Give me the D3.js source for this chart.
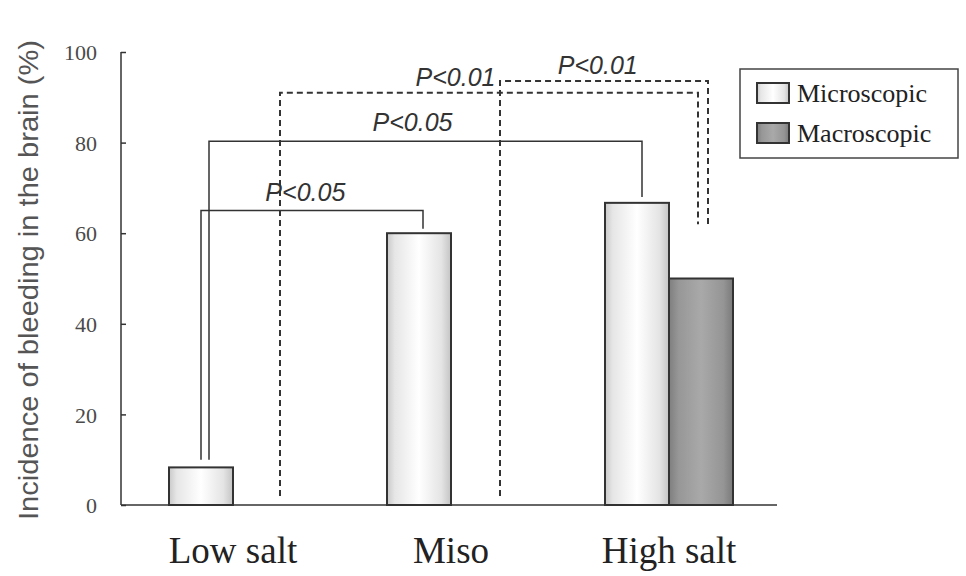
<!DOCTYPE html>
<html>
<head>
<meta charset="utf-8">
<script src="https://cdn.jsdelivr.net/npm/d3@7"></script>
<style>
  body { margin: 0; background: #fff; }
  svg { display: block; }
  .ylab { font-family: "Liberation Serif", serif; font-size: 22px; fill: #4a4a4a; }
  .xlab { font-family: "Liberation Serif", serif; font-size: 37px; fill: #222; }
  .ptext { font-family: "Liberation Sans", Arial, sans-serif; font-style: italic; font-size: 25px; fill: #333; }
  .legend-text { font-family: "Liberation Serif", serif; font-size: 26px; fill: #222; }
  .title { font-family: "Liberation Sans", Arial, sans-serif; font-size: 28px; fill: #555; }
</style>
</head>
<body>
<div id="chart"></div>
<script>
// data
var categories = ['Low salt', 'Miso', 'High salt'];
var series = ['Microscopic', 'Macroscopic'];
var microscopic = [8.3, 60, 66.7];
var macroscopic = [null, null, 50];
var yTicks = [0, 20, 40, 60, 80, 100];

// significance brackets: left end, right end, bar level (%), leg bottoms (%)
var bracketLabels = ['P<0.05', 'P<0.05', 'P<0.01', 'P<0.01'];
var bracketFrom = [['Low salt', 'Microscopic'], ['Low salt', 'Microscopic'], ['Low salt', 'Macroscopic'], ['Miso', 'Macroscopic']];
var bracketTo = [['Miso', 'Microscopic'], ['High salt', 'Microscopic'], ['High salt', 'Macroscopic'], ['High salt', 'Macroscopic']];
var bracketLevel = [65, 80.3, 91, 93.6];
var bracketLeftBottom = [10, 10, 2, 2];
var bracketRightBottom = [61, 68, 62, 62];
var bracketDashed = [false, false, true, true];

var width = 966,
    height = 576,
    axis_left = 121,
    axis_right = 777,
    bar_width = 64;

var svg = d3.select('#chart').append('svg')
            .attr('width', width)
            .attr('height', height);

var y = d3.scaleLinear().domain([0, 100]).range([505, 52]);
var x = d3.scaleBand().domain(categories).range([124, 778]).padding(0);
var xs = d3.scaleBand().domain(series).range([-bar_width, bar_width]);

var values = {};
values['Microscopic'] = microscopic;
values['Macroscopic'] = macroscopic;

function center(cat) { return x(cat) + x.bandwidth() / 2; }
function barMid(cat, s) { return center(cat) + xs(s) + xs.bandwidth() / 2; }

// gradients
var defs = svg.append('defs');
var g1 = defs.append('linearGradient').attr('id', 'grad-micro');
[[0, '#c9c9c9'], [0.12, '#e6e6e6'], [0.5, '#ffffff'], [0.85, '#e4e4e4'], [1, '#c4c4c4']].forEach(function(s){
  g1.append('stop').attr('offset', s[0]).attr('stop-color', s[1]);
});
var g2 = defs.append('linearGradient').attr('id', 'grad-macro');
[[0, '#7e7e7e'], [0.15, '#979797'], [0.5, '#a9a9a9'], [0.85, '#959595'], [1, '#7a7a7a']].forEach(function(s){
  g2.append('stop').attr('offset', s[0]).attr('stop-color', s[1]);
});
var fills = { 'Microscopic': 'url(#grad-micro)', 'Macroscopic': 'url(#grad-macro)' };

// y axis
var yAxis = d3.axisLeft(y).tickValues(yTicks).tickSize(-5).tickPadding(24);
var yg = svg.append('g')
            .attr('transform', 'translate(' + axis_left + ',0)')
            .call(yAxis);
yg.select('.domain').remove();
yg.selectAll('.tick line').attr('stroke', '#333').attr('stroke-width', 1.5);
yg.selectAll('.tick text').attr('class', 'ylab').attr('dy', '0.35em');

svg.append('line')
   .attr('x1', axis_left).attr('y1', y(100))
   .attr('x2', axis_left).attr('y2', y(0))
   .attr('stroke', '#333').attr('stroke-width', 1.5);

// bars
series.forEach(function(s){
  categories.forEach(function(c, i){
    var v = values[s][i];
    if (v === null) return;
    svg.append('rect')
       .attr('x', center(c) + xs(s))
       .attr('y', y(v))
       .attr('width', xs.bandwidth())
       .attr('height', y(0) - y(v))
       .attr('fill', fills[s])
       .attr('stroke', '#333')
       .attr('stroke-width', 2);
  });
});

// x axis line
svg.append('line')
   .attr('x1', axis_left).attr('y1', y(0))
   .attr('x2', axis_right).attr('y2', y(0))
   .attr('stroke', '#333').attr('stroke-width', 1.5);

svg.selectAll('.xlab')
   .data(categories)
   .enter().append('text')
   .attr('class', 'xlab')
   .attr('x', function(d){ return center(d); })
   .attr('y', 563)
   .attr('text-anchor', 'middle')
   .text(function(d){ return d; });

// brackets
var legNudge = [[0, 4], [8, 5], [15, -3], [17, 7]],
    labelAt = [0.47, 0.47, 0.42, 0.47];

bracketLabels.forEach(function(label, i){
  var xl = barMid(bracketFrom[i][0], bracketFrom[i][1]) + legNudge[i][0],
      xr = barMid(bracketTo[i][0], bracketTo[i][1]) + legNudge[i][1],
      yl = y(bracketLevel[i]);
  svg.append('path')
     .attr('d', 'M' + xl + ',' + y(bracketLeftBottom[i]) + 'V' + yl + 'H' + xr + 'V' + y(bracketRightBottom[i]))
     .attr('fill', 'none')
     .attr('stroke', '#333')
     .attr('stroke-width', bracketDashed[i] ? 2 : 1.5)
     .attr('stroke-dasharray', bracketDashed[i] ? '6,4' : null);
  svg.append('text')
     .attr('class', 'ptext')
     .attr('x', xl + (xr - xl) * labelAt[i])
     .attr('y', yl - (bracketDashed[i] ? 7 : 10))
     .attr('text-anchor', 'middle')
     .text(label);
});

// y title
svg.append('text')
   .attr('class', 'title')
   .attr('transform', 'translate(38, 280) rotate(-90)')
   .attr('text-anchor', 'middle')
   .attr('textLength', 480)
   .attr('lengthAdjust', 'spacingAndGlyphs')
   .text('Incidence of bleeding in the brain (%)');

// legend
var legend = svg.append('g');
legend.append('rect')
      .attr('x', 740).attr('y', 69)
      .attr('width', 218).attr('height', 89)
      .attr('fill', '#fff')
      .attr('stroke', '#444')
      .attr('stroke-width', 1.5);

series.forEach(function(s, i){
  legend.append('rect')
        .attr('x', 757).attr('y', 83 + i * 40)
        .attr('width', 32).attr('height', 20)
        .attr('fill', fills[s])
        .attr('stroke', '#333')
        .attr('stroke-width', 2);
  legend.append('text')
        .attr('class', 'legend-text')
        .attr('x', 797).attr('y', 102 + i * 40)
        .text(s);
});
</script>
</body>
</html>
